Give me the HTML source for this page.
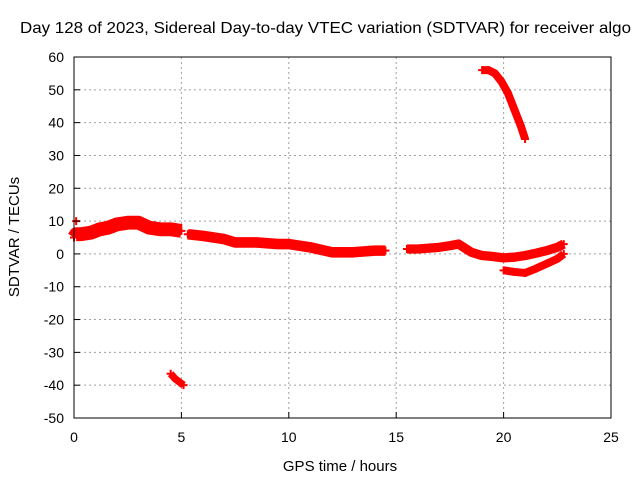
<!DOCTYPE html>
<html><head><meta charset="utf-8"><style>
body{margin:0;background:#fff;}
svg text{font-family:"Liberation Sans",sans-serif;font-size:14px;fill:#000;}
</style></head><body>
<svg id="chart" width="640" height="480">
<rect width="640" height="480" fill="#fff"/>
<text x="20" y="33" textLength="611" lengthAdjust="spacingAndGlyphs" style="font-size:16px">Day 128 of 2023, Sidereal Day-to-day VTEC variation (SDTVAR) for receiver algo</text>
<g id="grid"></g><g id="series"></g><g id="axes"></g>
<text x="340" y="471" text-anchor="middle" style="font-size:15px">GPS time / hours</text>
<text transform="translate(19,237) rotate(-90)" text-anchor="middle" style="font-size:15px">SDTVAR / TECUs</text>
</svg>
<script>
const xTicks=[0,5,10,15,20,25];
const yTicks=[60,50,40,30,20,10,0,-10,-20,-30,-40,-50];
const seg1T=[0,0.1,0.3,0.8,1.2,1.6,2.0,2.5,3.0,3.5,4.0,4.5,5.0];
const seg1V=[5,6,6,6.5,7.5,8,9,9.5,9.5,8,7.5,7.5,7];
const seg2T=[5.3,6,7,7.5,8.5,9.5,10,11,12,13,14,14.5];
const seg2V=[6,5.5,4.5,3.5,3.5,3,3,2,0.5,0.5,1,1];
const seg3T=[15.5,16,17,17.5,17.9,18.5,19,19.5,20,20.5,21,21.5,22,22.5,22.8];
const seg3V=[1.5,1.5,2,2.5,3,0.5,-0.5,-0.8,-1.2,-1,-0.5,0.2,1,2,3];
const seg4T=[20,20.5,21,21.5,22,22.5,22.8];
const seg4V=[-5,-5.5,-5.8,-4.5,-3,-1.5,0];
const seg5T=[19,19.3,19.6,19.9,20.2,20.5,20.8,21];
const seg5V=[56,56,55,52.5,49,44,39,35];
const seg6T=[4.5,4.7,4.9,5.1];
const seg6V=[-36.5,-38,-39,-40];
const segs=[[seg1T,seg1V,3],[seg2T,seg2V,2],[seg3T,seg3V,1.6],[seg4T,seg4V,1.2],[seg5T,seg5V,1.2],[seg6T,seg6V,1]];
const x0=74,x1=611,yTop=57,yBot=418;
const X=t=>x0+(t-0)/25*(x1-x0);
const Y=v=>yTop+(60-v)/110*(yBot-yTop);
const NS="http://www.w3.org/2000/svg";
function mk(tag,attrs,parent){const e=document.createElementNS(NS,tag);for(const k in attrs)e.setAttribute(k,attrs[k]);parent.appendChild(e);return e;}
const grid=document.getElementById('grid'),axes=document.getElementById('axes'),series=document.getElementById('series');
xTicks.forEach(t=>{
  if(t>0&&t<25){const l=mk('line',{x1:X(t),x2:X(t),y1:yTop,y2:yBot,stroke:'#a0a0a0','stroke-dasharray':'2,3'},grid);
  
  }
  const tk=mk('line',{x1:X(t),x2:X(t),y1:yBot,y2:yBot-6,stroke:'#000'},axes);
  
  
  const tx=mk('text',{x:X(t),y:yBot+24,'text-anchor':'middle'},axes);tx.textContent=t;
  
  
});
yTicks.forEach(v=>{
  if(v<60&&v>-50){const l=mk('line',{x1:x0,x2:x1,y1:Y(v),y2:Y(v),stroke:'#a0a0a0','stroke-dasharray':'2,3'},grid);
  
  }
  const tk=mk('line',{x1:x0,x2:x0+6,y1:Y(v),y2:Y(v),stroke:'#000'},axes);
  
  
  const tx=mk('text',{x:x0-10,y:Y(v)+5,'text-anchor':'end'},axes);tx.textContent=v;
  
  
});
const fr=mk('rect',{x:x0,y:yTop,width:x1-x0,height:yBot-yTop,fill:'none',stroke:'#000'},axes);


segs.forEach(([T,V,w])=>{
  const pts=T.map((t,i)=>X(t)+','+Y(V[i])).join(' ');
  const pl=mk('polyline',{points:pts,fill:'none',stroke:'#ff0000','stroke-width':w*3.3+4,'stroke-linejoin':'round','stroke-linecap':'butt'},series);
  
  
  T.forEach((t,i)=>{
    const p=mk('path',{d:`M${X(t)-4},${Y(V[i])}h8M${X(t)},${Y(V[i])-4}v8`,stroke:'#ff0000','stroke-width':2},series);
    
    
  });
});
const o=mk('path',{d:`M${X(0.1)-4},${Y(10)}h8M${X(0.1)},${Y(10)-4}v8`,stroke:'#ff0000','stroke-width':2},series);


</script>
</body></html>
